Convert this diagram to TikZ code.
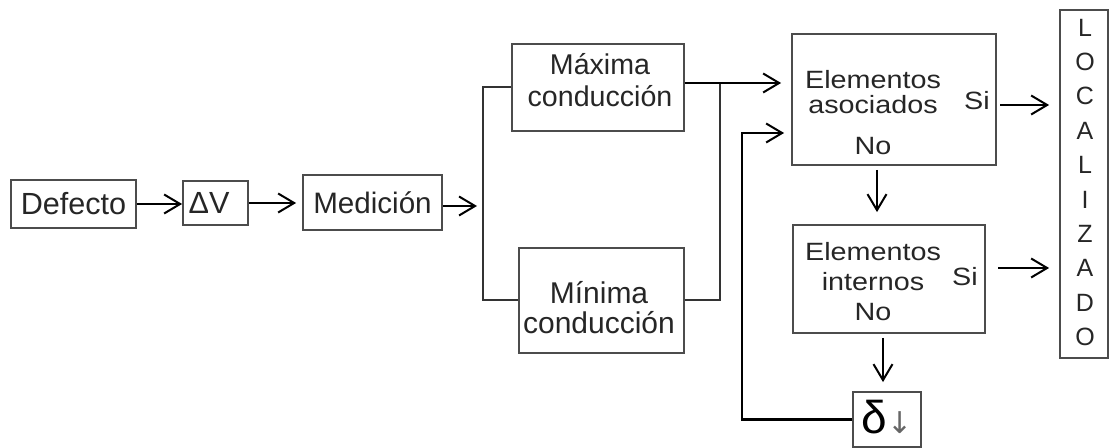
\documentclass[tikz,border=0pt]{standalone}
\usepackage{fontspec}
\setmainfont{Liberation Sans}
\newfontfamily\widefont[FakeStretch=1.15]{Liberation Sans}
\newfontfamily\symfont{DejaVu Sans}
\usetikzlibrary{arrows.meta}
\begin{document}
\begin{tikzpicture}[x=0.5pt,y=-0.5pt,
  box/.style={draw=black!70, line width=0.9pt, inner sep=0pt, text=black!85},
  arr/.style={draw=black, line width=1pt, -{Straight Barb[length=8pt,width=9.5pt,line width=1pt]}},
  wire/.style={draw=black!80, line width=1pt},
  lbl/.style={text=black!85, inner sep=0pt, align=center},
  fa/.style={font=\fontsize{15.3}{16}\selectfont},
  fb/.style={font=\widefont\fontsize{12.5}{12.5}\selectfont},
]
\useasboundingbox (0,0) rectangle (1109,448);

% boxes
\node[box, fa, minimum width=62.5pt, minimum height=24pt] (defecto) at (73.5,204) {Defecto};
\node[box, minimum width=32.5pt, minimum height=22pt] (dv) at (215.5,203) {};
\node[box, font=\fontsize{14.8}{16}\selectfont, minimum width=69.5pt, minimum height=27.5pt] (med) at (372.5,202.5) {Medici\'on};
\node[box, minimum width=86pt, minimum height=43.5pt] (max) at (598,87.5) {};
\node[box, minimum width=82.5pt, minimum height=52.5pt] (min) at (601.5,300.5) {};
\node[box, minimum width=102pt, minimum height=65.5pt] (aso) at (894,99.5) {};
\node[box, minimum width=96pt, minimum height=54pt] (int) at (889,279) {};
\node[box, minimum width=34pt, minimum height=27.5pt] (delta) at (887,419.5) {};
\node[box, minimum width=24pt, minimum height=174pt] (loc) at (1084,184) {};

% labels
\node[lbl, fa] (dvt) at (209,203) {ΔV};
\node[lbl, font=\fontsize{14.3}{16}\selectfont] (maxt) at (600,80) {Máxima\\conducción};
\node[lbl, font=\fontsize{15}{15}\selectfont] (mint) at (599,308) {Mínima\\conducción};
\node[lbl, fb] (asot) at (873,92) {Elementos\\asociados};
\node[lbl, fb] (ason) at (873,146) {No};
\node[lbl, fb] (asos) at (977,101) {Si};
\node[lbl, fb, font=\widefont\fontsize{12.5}{15}\selectfont] (intt) at (873,282) {Elementos\\internos\\No};
\node[lbl, fb] (ints) at (965,276.5) {Si};
\node[lbl, text=black] (deltat) at (887,417) {{\fontsize{23}{23}\selectfont δ}{\symfont\fontsize{15}{15}\selectfont\color{black!60}↓}};
\node[lbl, font=\fontsize{12.5}{17.2}\selectfont] (loct) at (1085,182.5) {L\\O\\C\\A\\L\\I\\Z\\A\\D\\O};

% junction coordinates
\coordinate (jl) at (483,206);
\coordinate (jr) at (720,83);
\coordinate (fbk) at (742,133);
\coordinate (s1) at (996,105);
\coordinate (s2) at (985,268);
\coordinate (d1) at (877,165);
\coordinate (d2) at (883,333);

% main chain
\draw[arr] (defecto.east) -- (defecto.east -| dv.west);
\draw[arr, shorten >=3pt] (dv.east) -- (dv.east -| med.west);
\draw[arr, shorten >=3pt] (med.east |- jl) -- (jl);

% split bracket
\draw[wire] (max.west) -| (jl) |- (min.west);
\draw[wire] (min.east) -| (jr);
\draw[arr, shorten >=5pt] (max.east |- jr) -- (aso.west |- jr);

% feedback loop
\draw[arr, line width=1.3pt, shorten >=3.5pt] (delta.west) -| (fbk) -- (aso.west |- fbk);

% Si arrows
\draw[arr, shorten <=2pt, shorten >=5pt] (s1) -- (s1 -| loc.west);
\draw[arr, shorten <=6.5pt, shorten >=5pt] (s2) -- (s2 -| loc.west);

% No arrows
\draw[arr, shorten <=2.5pt, shorten >=6pt] (d1) -- (d1 |- int.north);
\draw[arr, shorten <=2.5pt, shorten >=4.5pt] (d2) -- (d2 |- delta.north);
\end{tikzpicture}
\end{document}
